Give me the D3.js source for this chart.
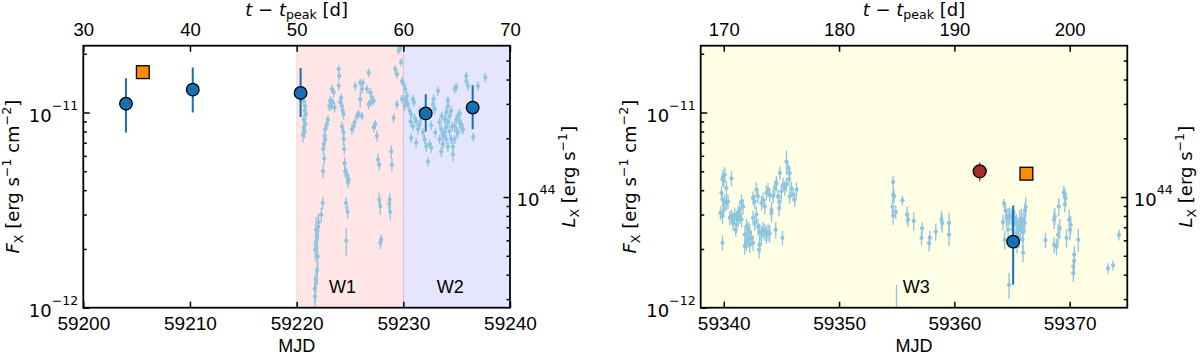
<!DOCTYPE html>
<html>
<head>
<meta charset="utf-8">
<script src="https://cdn.jsdelivr.net/npm/d3@7"></script>
<style>
  body { margin: 0; background: #fff; }
  svg { display: block; font-family: "Liberation Sans", Arial, sans-serif; }
</style>
</head>
<body>
<div id="chart"></div>
<script>
// Fluxes are in units of 1e-12 erg s^-1 cm^-2
const FLUX_UNIT = 1e-12;
const T_PEAK = 59170;          // MJD of peak, used for the top axis
const LUM_PER_FLUX = 2.71e55;  // L_X / F_X

// Axis limits and ticks
const fluxLimits = [1, 22];
const leftMjdLimits = [59200, 59240];
const rightMjdLimits = [59338, 59375];
const leftMjdTicks = [59200, 59210, 59220, 59230, 59240];
const rightMjdTicks = [59340, 59350, 59360, 59370];
const leftPeakTicks = [30, 40, 50, 60, 70];
const rightPeakTicks = [170, 180, 190, 200];
const fluxLabelTicks = [[1, "−12"], [10, "−11"]];
const lumLabelTicks = [[1e44, "44"]];

// Shaded windows
const windowNames = ["W1", "W2", "W3"];
const windowRanges = [[59220, 59230], [59230, 59240], [59338, 59375]];
const windowColors = ["#ff0000", "#0000ff", "#ffff00"];
const windowLabelMjd = [59224.3, 59234.4, 59356.7];

// Big blue circles: [MJD, flux, low, high]
const blueLeft = [
  [59204.0, 11.1, 7.9, 15.0],
  [59210.26, 13.1, 10.0, 17.0],
  [59220.37, 12.6, 9.5, 16.9],
  [59232.1, 9.9, 8.0, 12.4],
  [59236.5, 10.6, 8.2, 13.8]
];
const blueRight = [[59365.1, 2.18, 1.31, 3.34]];

// Orange squares: [MJD, flux]
const squaresLeft = [[59205.58, 16.1]];
const squaresRight = [[59366.25, 4.86]];

// Dark red circle: [MJD, flux, err]
const redRight = [[59362.2, 5.0, 0.55]];

// Light blue light curve: [MJD, flux, err]
const lightW1 = [
  [59220.66, 11.5, 0.8], [59220.81, 10.8, 0.7], [59220.75, 10.2, 0.7], [59220.87, 9.8, 0.6],
  [59220.68, 9.2, 0.6], [59220.81, 8.7, 0.6], [59220.66, 8.4, 0.6], [59220.75, 8.0, 0.6],
  [59220.59, 7.7, 0.7],
  [59222.44, 3.44, 0.25], [59222.31, 3.0, 0.25], [59222.06, 2.74, 0.3], [59221.81, 2.51, 0.4],
  [59221.90, 2.32, 0.3], [59221.81, 2.14, 0.3], [59221.74, 1.98, 0.25], [59221.97, 1.83, 0.25],
  [59221.93, 1.56, 0.25], [59221.81, 1.39, 0.2], [59221.69, 1.25, 0.2], [59221.72, 1.14, 0.2],
  [59222.02, 2.60, 0.4],
  [59222.93, 9.2, 0.5], [59222.84, 8.7, 0.5], [59222.68, 8.2, 0.5], [59222.62, 7.6, 0.5],
  [59222.68, 7.3, 0.5], [59222.56, 6.9, 0.4], [59222.49, 6.5, 0.4], [59222.59, 5.8, 0.4],
  [59222.47, 5.0, 0.4],
  [59223.31, 13.2, 0.7], [59223.47, 12.7, 0.7], [59223.15, 11.5, 0.6], [59223.37, 11.3, 0.6],
  [59223.24, 10.8, 0.6], [59223.56, 10.6, 0.6], [59223.06, 10.8, 0.6],
  [59223.94, 16.7, 0.8], [59223.99, 15.4, 0.8], [59223.94, 13.7, 0.7], [59224.18, 11.9, 0.6],
  [59224.09, 11.3, 0.6], [59224.25, 10.8, 0.6], [59224.31, 10.2, 0.6], [59224.40, 9.8, 0.6],
  [59224.25, 8.5, 0.5], [59224.40, 7.9, 0.5], [59224.40, 7.3, 0.5], [59224.46, 6.5, 0.4],
  [59224.50, 5.5, 0.4], [59224.55, 5.0, 0.35], [59224.71, 4.8, 0.35], [59224.87, 4.54, 0.3],
  [59224.81, 4.4, 0.3], [59224.62, 3.44, 0.25], [59224.78, 3.1, 0.25], [59224.65, 2.2, 0.35],
  [59225.49, 13.7, 0.7], [59225.96, 14.2, 0.7], [59226.21, 14.2, 0.7], [59226.12, 13.2, 0.7],
  [59225.96, 11.7, 1.1], [59225.65, 9.6, 0.5], [59225.81, 9.8, 0.5], [59226.12, 9.6, 0.5],
  [59225.34, 8.5, 0.5], [59225.18, 8.2, 0.5], [59225.43, 8.9, 0.5],
  [59226.75, 16.0, 0.8], [59226.59, 13.2, 0.7], [59226.90, 12.7, 0.7], [59227.06, 11.9, 0.6],
  [59227.22, 11.5, 0.6], [59226.99, 11.3, 0.6], [59226.75, 11.0, 0.6], [59227.37, 8.7, 0.5],
  [59227.22, 8.4, 0.5], [59227.53, 7.6, 0.5], [59227.62, 5.75, 0.4], [59227.74, 5.4, 0.35],
  [59227.74, 3.58, 0.3], [59227.84, 3.3, 0.3], [59227.93, 2.23, 0.15], [59227.84, 2.15, 0.15],
  [59228.87, 6.3, 0.5], [59228.93, 5.4, 0.4], [59228.72, 3.58, 0.3], [59228.68, 3.4, 0.3],
  [59228.77, 3.1, 0.3],
  [59229.56, 20.8, 1.0], [59229.71, 21.5, 1.0], [59229.65, 21.8, 1.2], [59229.78, 18.1, 0.9],
  [59229.24, 16.7, 0.8], [59229.40, 15.7, 0.8], [59229.87, 14.5, 0.7], [59229.87, 11.7, 0.6],
  [59229.40, 11.0, 0.6], [59229.09, 9.4, 0.5]
];
const lightW2 = [
  [59230.03, 14.0, 0.7], [59230.18, 13.2, 0.7], [59230.34, 12.2, 0.6], [59230.18, 11.7, 0.6],
  [59230.27, 11.5, 0.6], [59230.43, 11.0, 0.6], [59230.90, 11.7, 0.6], [59230.99, 11.3, 0.6],
  [59230.12, 10.8, 0.6], [59230.59, 10.2, 0.5], [59230.74, 9.8, 0.5], [59231.06, 9.4, 0.5],
  [59230.68, 9.0, 0.5], [59230.90, 8.5, 0.5], [59230.74, 7.4, 0.4], [59231.37, 8.2, 0.5],
  [59231.21, 9.0, 0.5], [59231.53, 8.7, 0.5], [59231.68, 9.4, 0.5], [59231.53, 10.2, 0.5],
  [59231.84, 7.9, 0.4], [59232.00, 7.3, 0.4], [59232.15, 6.7, 0.4], [59232.47, 6.9, 0.4],
  [59232.62, 6.6, 0.4], [59232.31, 5.6, 0.3], [59232.78, 11.0, 0.6], [59232.94, 10.4, 0.6],
  [59233.25, 12.9, 0.7], [59232.85, 11.7, 0.6], [59233.40, 8.9, 0.5], [59233.55, 8.2, 0.5],
  [59233.71, 7.6, 0.5], [59233.40, 7.3, 0.4], [59233.87, 9.2, 0.5], [59234.02, 10.0, 0.7],
  [59234.18, 10.8, 0.8], [59234.18, 8.9, 0.5], [59234.34, 8.0, 0.5], [59234.49, 7.3, 0.4],
  [59234.65, 6.7, 0.4], [59234.65, 6.1, 0.5], [59234.81, 8.5, 0.5], [59234.96, 9.2, 0.6],
  [59235.12, 9.6, 0.6], [59235.28, 8.9, 0.5], [59235.43, 8.4, 0.5], [59235.12, 7.9, 0.5],
  [59234.81, 7.3, 0.4], [59234.02, 7.3, 0.4], [59233.71, 6.9, 0.4], [59234.18, 6.7, 0.4],
  [59233.87, 7.9, 0.5], [59234.34, 9.6, 0.6], [59234.49, 10.2, 0.6], [59235.43, 8.7, 0.5],
  [59235.59, 8.2, 0.5], [59234.81, 13.2, 0.7], [59234.96, 13.5, 0.7], [59234.18, 11.5, 0.6],
  [59235.90, 15.4, 0.8], [59235.90, 14.5, 0.7], [59236.06, 13.7, 0.7], [59236.99, 13.7, 0.7],
  [59237.68, 15.1, 0.8], [59236.56, 7.5, 0.4], [59233.55, 6.3, 0.4],
  [59233.60, 9.6, 0.5], [59234.60, 8.5, 0.5], [59235.00, 8.0, 0.5], [59234.00, 8.4, 0.5],
  [59235.30, 9.9, 0.6], [59233.00, 7.9, 0.4], [59232.60, 8.6, 0.5], [59231.20, 7.0, 0.4]
];
const lightW3 = [
  [59339.94, 4.7, 0.4], [59340.00, 4.5, 0.4], [59340.23, 4.1, 0.35], [59339.89, 4.54, 0.35],
  [59340.09, 4.8, 0.45], [59340.67, 4.6, 0.4], [59339.80, 3.88, 0.3], [59339.89, 3.58, 0.3],
  [59340.09, 3.5, 0.3], [59340.37, 3.5, 0.3], [59340.23, 3.44, 0.3], [59339.71, 3.06, 0.25],
  [59339.89, 2.94, 0.25], [59340.00, 3.18, 0.25], [59339.89, 2.15, 0.2],
  [59340.67, 2.94, 0.25], [59340.81, 2.83, 0.25], [59340.95, 3.0, 0.25], [59341.10, 2.89, 0.25],
  [59341.24, 3.06, 0.25], [59341.39, 2.94, 0.25], [59341.54, 2.83, 0.25], [59341.10, 2.66, 0.25],
  [59340.81, 2.72, 0.25], [59341.39, 3.18, 0.3], [59341.04, 2.51, 0.2], [59341.54, 3.5, 0.3],
  [59341.68, 3.3, 0.3], [59341.24, 2.83, 0.25], [59340.52, 2.89, 0.25],
  [59341.97, 2.6, 0.25], [59342.11, 2.51, 0.25], [59342.26, 2.44, 0.25], [59341.82, 2.37, 0.2],
  [59342.11, 2.23, 0.2], [59341.97, 2.15, 0.2], [59342.26, 2.1, 0.2], [59342.54, 2.15, 0.2],
  [59341.82, 2.07, 0.2], [59342.40, 2.28, 0.2], [59342.69, 2.72, 0.25], [59342.97, 2.6, 0.25],
  [59343.12, 2.44, 0.25], [59343.12, 2.1, 0.2], [59343.06, 1.98, 0.2], [59343.27, 2.37, 0.25],
  [59343.41, 2.51, 0.25], [59343.56, 2.44, 0.25], [59343.70, 2.37, 0.25], [59343.84, 2.44, 0.25],
  [59343.99, 2.4, 0.25], [59342.54, 2.89, 0.25], [59342.83, 3.0, 0.3],
  [59342.54, 3.65, 0.3], [59342.83, 4.03, 0.35], [59342.69, 3.5, 0.3], [59342.97, 3.72, 0.3],
  [59343.27, 3.44, 0.3], [59343.56, 3.3, 0.3], [59343.70, 3.88, 0.35], [59343.84, 4.03, 0.35],
  [59343.99, 3.8, 0.3], [59343.41, 3.58, 0.3], [59344.14, 3.18, 0.3], [59344.28, 3.72, 0.3],
  [59344.14, 3.06, 0.3], [59344.42, 4.1, 0.35], [59344.57, 4.3, 0.35], [59344.71, 3.72, 0.3],
  [59344.86, 3.5, 0.3], [59345.00, 3.95, 0.35], [59344.80, 3.24, 0.3], [59345.09, 2.28, 0.2],
  [59344.51, 2.51, 0.25],
  [59344.57, 4.4, 0.35], [59344.86, 4.9, 0.4], [59345.29, 4.1, 0.35], [59345.44, 5.6, 0.8],
  [59345.58, 5.2, 0.4], [59345.72, 4.9, 0.4], [59345.66, 4.54, 0.35], [59345.44, 4.28, 0.35],
  [59345.87, 4.1, 0.35], [59346.01, 3.8, 0.3], [59346.16, 3.58, 0.3], [59346.31, 4.03, 0.35],
  [59345.72, 3.72, 0.3], [59345.15, 4.28, 0.35],
  [59354.69, 4.4, 0.35], [59354.69, 3.8, 0.3], [59354.77, 3.72, 0.3], [59354.63, 3.3, 0.3],
  [59354.69, 2.96, 0.3], [59354.92, 3.1, 0.25], [59355.50, 3.55, 0.2], [59355.90, 3.0, 0.3],
  [59355.98, 2.83, 0.25], [59356.48, 2.78, 0.3], [59357.20, 2.55, 0.2], [59357.15, 2.28, 0.2],
  [59357.87, 2.28, 0.2], [59357.81, 2.14, 0.2], [59358.39, 2.45, 0.25], [59358.88, 2.83, 0.3],
  [59358.94, 2.72, 0.3], [59359.54, 2.72, 0.35], [59359.54, 2.37, 0.3], [59354.98, 0.95, 0.36],
  [59364.74, 1.31, 0.2],
  [59364.31, 3.42, 0.2], [59364.45, 3.14, 0.25], [59364.22, 2.75, 0.25], [59364.52, 2.88, 0.3],
  [59364.66, 2.94, 0.3], [59364.80, 2.96, 0.3], [59364.95, 2.91, 0.3], [59365.09, 2.83, 0.3],
  [59365.24, 2.88, 0.3], [59365.38, 2.72, 0.3], [59365.52, 2.61, 0.3], [59365.67, 2.83, 0.35],
  [59365.82, 2.86, 0.35], [59365.96, 2.78, 0.3], [59366.11, 2.72, 0.3], [59366.19, 3.28, 0.4],
  [59366.13, 3.14, 0.3], [59365.96, 2.43, 0.3], [59365.91, 2.23, 0.25], [59365.73, 2.51, 0.3],
  [59365.61, 2.32, 0.3], [59365.38, 2.43, 0.3], [59365.44, 2.15, 0.25], [59364.37, 2.23, 0.25],
  [59364.66, 2.51, 0.3], [59365.96, 1.91, 0.2], [59365.04, 2.51, 0.3],
  [59367.90, 2.22, 0.2], [59368.65, 2.1, 0.2], [59368.71, 2.94, 0.3], [59368.65, 2.83, 0.3],
  [59368.86, 2.05, 0.2], [59368.99, 2.37, 0.3], [59369.14, 2.55, 0.3], [59369.06, 3.3, 0.35],
  [59369.49, 3.9, 0.3], [59369.58, 3.8, 0.3], [59369.64, 3.65, 0.3], [59369.58, 3.38, 0.3],
  [59369.73, 2.28, 0.25], [59369.96, 2.83, 0.35], [59370.09, 2.66, 0.3], [59370.03, 2.51, 0.3],
  [59370.40, 1.87, 0.2], [59370.40, 1.74, 0.2], [59370.32, 1.63, 0.15], [59370.32, 1.5, 0.15],
  [59370.75, 2.23, 0.3], [59373.33, 1.59, 0.1], [59373.76, 1.65, 0.1], [59374.28, 2.36, 0.15]
];

// Styling
const FS = 18;
const TICK_FS = 19;
const SUP = 12.6;
const MATH_FONT = "'DejaVu Sans', sans-serif";
const LIGHT = "#8dc4e0";
const BLUE = "#1670b4";
const ORANGE = "#ff8c00";
const RED = "#a32d2b";

const width = 1200, height = 354;
const plotTop = 45.7, plotBottom = 307.7;

const svg = d3.select("#chart").append("svg")
    .attr("width", width)
    .attr("height", height)
    .attr("viewBox", [0, 0, width, height]);

function drawPanel(p, idx) {
  const x = d3.scaleLinear().domain(p.mjd).range([p.x0, p.x1]);
  const y = d3.scaleLog().domain(fluxLimits.map(v => v * FLUX_UNIT)).range([plotBottom, plotTop]);
  const yL = d3.scaleLog().domain(fluxLimits.map(v => v * FLUX_UNIT * LUM_PER_FLUX)).range([plotBottom, plotTop]);
  const tx = d3.scaleLinear().domain(p.mjd.map(d => d - T_PEAK)).range([p.x0, p.x1]);

  const g = svg.append("g");
  const clipId = `clip-${idx}`;
  g.append("clipPath").attr("id", clipId)
    .append("rect")
      .attr("x", p.x0).attr("y", plotTop)
      .attr("width", p.x1 - p.x0).attr("height", plotBottom - plotTop);
  const plot = g.append("g").attr("clip-path", `url(#${clipId})`);

  // Shaded windows
  p.windows.forEach(w => {
    const [a, b] = windowRanges[w];
    plot.append("rect")
      .attr("x", x(a)).attr("y", plotTop)
      .attr("width", x(b) - x(a)).attr("height", plotBottom - plotTop)
      .attr("fill", windowColors[w]).attr("fill-opacity", 0.1)
      .attr("stroke", windowColors[w]).attr("stroke-opacity", 0.1);
    plot.append("text")
      .attr("x", x(windowLabelMjd[w])).attr("y", 293.3)
      .attr("text-anchor", "middle")
      .attr("font-size", FS)
      .text(windowNames[w]);
  });

  // Light blue points
  const light = plot.append("g");
  light.selectAll("line").data(p.light).join("line")
    .attr("x1", d => x(d[0])).attr("x2", d => x(d[0]))
    .attr("y1", d => y(Math.max(d[1] - d[2], 0.5) * FLUX_UNIT))
    .attr("y2", d => y((d[1] + d[2]) * FLUX_UNIT))
    .attr("stroke", LIGHT).attr("stroke-width", 1.3);
  light.selectAll("circle").data(p.light).join("circle")
    .attr("cx", d => x(d[0])).attr("cy", d => y(d[1] * FLUX_UNIT))
    .attr("r", 2.1).attr("fill", LIGHT);

  // Big blue circles with error bars
  plot.selectAll(".blue-err").data(p.blue).join("line")
    .attr("class", "blue-err")
    .attr("x1", d => x(d[0])).attr("x2", d => x(d[0]))
    .attr("y1", d => y(d[2] * FLUX_UNIT)).attr("y2", d => y(d[3] * FLUX_UNIT))
    .attr("stroke", BLUE).attr("stroke-width", 2);
  plot.selectAll(".blue-dot").data(p.blue).join("circle")
    .attr("class", "blue-dot")
    .attr("cx", d => x(d[0])).attr("cy", d => y(d[1] * FLUX_UNIT))
    .attr("r", 6.3).attr("fill", BLUE)
    .attr("stroke", "#000").attr("stroke-width", 1.3);

  // Red circles
  plot.selectAll(".red-err").data(p.red).join("line")
    .attr("class", "red-err")
    .attr("x1", d => x(d[0])).attr("x2", d => x(d[0]))
    .attr("y1", d => y((d[1] - d[2]) * FLUX_UNIT)).attr("y2", d => y((d[1] + d[2]) * FLUX_UNIT))
    .attr("stroke", "#d62728").attr("stroke-width", 1.3);
  plot.selectAll(".red-dot").data(p.red).join("circle")
    .attr("class", "red-dot")
    .attr("cx", d => x(d[0])).attr("cy", d => y(d[1] * FLUX_UNIT))
    .attr("r", 6.5).attr("fill", RED)
    .attr("stroke", "#000").attr("stroke-width", 1.3);

  // Orange squares
  const s = 12.8;
  plot.selectAll(".sq").data(p.squares).join("rect")
    .attr("class", "sq")
    .attr("x", d => x(d[0]) - s / 2).attr("y", d => y(d[1] * FLUX_UNIT) - s / 2)
    .attr("width", s).attr("height", s)
    .attr("fill", ORANGE).attr("stroke", "#000").attr("stroke-width", 1.3);

  // Spines
  g.append("rect")
    .attr("x", p.x0).attr("y", plotTop)
    .attr("width", p.x1 - p.x0).attr("height", plotBottom - plotTop)
    .attr("fill", "none").attr("stroke", "#000").attr("stroke-width", 1.8);

  const styleAxis = (sel, size = TICK_FS) => {
    sel.select(".domain").remove();
    sel.selectAll(".tick line").attr("stroke", "#000").attr("stroke-width", 1.5);
    sel.selectAll("text").attr("font-size", size).attr("fill", "#000")
      .attr("font-family", "'Liberation Sans', Arial, sans-serif");
  };

  // Bottom MJD axis
  g.append("g")
    .attr("transform", `translate(0,${plotBottom})`)
    .call(d3.axisBottom(x).tickValues(p.mjdTicks).tickSize(-6).tickPadding(8.5).tickFormat(d3.format("d")))
    .call(styleAxis);

  // Top t - t_peak axis
  g.append("g")
    .attr("transform", `translate(0,${plotTop})`)
    .call(d3.axisTop(tx).tickValues(p.peakTicks).tickSize(-6).tickPadding(9.5).tickFormat(d3.format("d")))
    .call(styleAxis, 18.5);

  // Left flux axis: minor and major ticks
  const fluxMinor = [];
  [-12, -11].forEach(e => d3.range(2, 10).forEach(m => {
    const v = m * Math.pow(10, e);
    if (v <= fluxLimits[1] * FLUX_UNIT) fluxMinor.push(v);
  }));
  g.append("g")
    .attr("transform", `translate(${p.x0},0)`)
    .call(d3.axisLeft(y).tickValues(fluxMinor).tickSize(-3.5).tickFormat(""))
    .call(styleAxis);
  g.append("g")
    .attr("transform", `translate(${p.x0},0)`)
    .call(d3.axisLeft(y).tickValues(fluxLabelTicks.map(t => t[0] * FLUX_UNIT)).tickSize(-6.5).tickFormat(""))
    .call(styleAxis);
  fluxLabelTicks.forEach(([v, exp]) => {
    const t = g.append("text")
      .attr("x", p.x0 - 5).attr("y", y(v * FLUX_UNIT) + 9)
      .attr("text-anchor", "end")
      .attr("font-family", MATH_FONT).attr("font-size", FS);
    t.append("tspan").text("10");
    t.append("tspan").attr("dy", -12).attr("font-size", SUP).text(exp);
  });

  // Right luminosity axis
  const lumMinor = [];
  [43, 44].forEach(e => d3.range(2, 10).forEach(m => {
    const v = m * Math.pow(10, e);
    const [lo, hi] = yL.domain();
    if (v >= lo && v <= hi) lumMinor.push(v);
  }));
  g.append("g")
    .attr("transform", `translate(${p.x1},0)`)
    .call(d3.axisRight(yL).tickValues(lumMinor).tickSize(-3.5).tickFormat(""))
    .call(styleAxis);
  g.append("g")
    .attr("transform", `translate(${p.x1},0)`)
    .call(d3.axisRight(yL).tickValues(lumLabelTicks.map(t => t[0])).tickSize(-6.5).tickFormat(""))
    .call(styleAxis);
  lumLabelTicks.forEach(([v, exp]) => {
    const t = g.append("text")
      .attr("x", p.x1 + 6.5).attr("y", yL(v) + 9)
      .attr("font-family", MATH_FONT).attr("font-size", FS);
    t.append("tspan").text("10");
    t.append("tspan").attr("dy", -12).attr("font-size", SUP).text(exp);
  });

  // Axis titles
  const cx = (p.x0 + p.x1) / 2;
  const cy = (plotTop + plotBottom) / 2;

  g.append("text")
    .attr("x", cx).attr("y", 351.5)
    .attr("text-anchor", "middle").attr("font-size", FS)
    .text("MJD");

  const top = g.append("text")
    .attr("x", cx).attr("y", 15.5)
    .attr("text-anchor", "middle")
    .attr("font-family", MATH_FONT).attr("font-size", FS);
  top.append("tspan").attr("font-style", "italic").text("t");
  top.append("tspan").text(" − ");
  top.append("tspan").attr("font-style", "italic").text("t");
  top.append("tspan").attr("dy", 3).attr("font-size", SUP).text("peak");
  top.append("tspan").attr("dy", -3).text(" [d]");

  const fl = g.append("text")
    .attr("transform", `translate(${p.x0 - 64.3},${cy}) rotate(-90)`)
    .attr("text-anchor", "middle")
    .attr("font-family", MATH_FONT).attr("font-size", FS);
  fl.append("tspan").attr("font-style", "italic").text("F");
  fl.append("tspan").attr("dy", 4).attr("font-size", SUP).text("X");
  fl.append("tspan").attr("dy", -4).text(" [erg s");
  fl.append("tspan").attr("dy", -8).attr("font-size", SUP).text("−1");
  fl.append("tspan").attr("dy", 8).text(" cm");
  fl.append("tspan").attr("dy", -8).attr("font-size", SUP).text("−2");
  fl.append("tspan").attr("dy", 8).text("]");

  const ll = g.append("text")
    .attr("transform", `translate(${p.x1 + 65},${cy}) rotate(-90)`)
    .attr("text-anchor", "middle")
    .attr("font-family", MATH_FONT).attr("font-size", FS);
  ll.append("tspan").attr("font-style", "italic").text("L");
  ll.append("tspan").attr("dy", 4).attr("font-size", SUP).text("X");
  ll.append("tspan").attr("dy", -4).text(" [erg s");
  ll.append("tspan").attr("dy", -8).attr("font-size", SUP).text("−1");
  ll.append("tspan").attr("dy", 8).text("]");
}

const panels = [
  {
    x0: 83.3, x1: 510, mjd: leftMjdLimits,
    mjdTicks: leftMjdTicks, peakTicks: leftPeakTicks,
    windows: [0, 1],
    light: lightW1.concat(lightW2),
    blue: blueLeft, squares: squaresLeft, red: []
  },
  {
    x0: 700.7, x1: 1127.3, mjd: rightMjdLimits,
    mjdTicks: rightMjdTicks, peakTicks: rightPeakTicks,
    windows: [2],
    light: lightW3,
    blue: blueRight, squares: squaresRight, red: redRight
  }
];

panels.forEach(drawPanel);
</script>
</body>
</html>
